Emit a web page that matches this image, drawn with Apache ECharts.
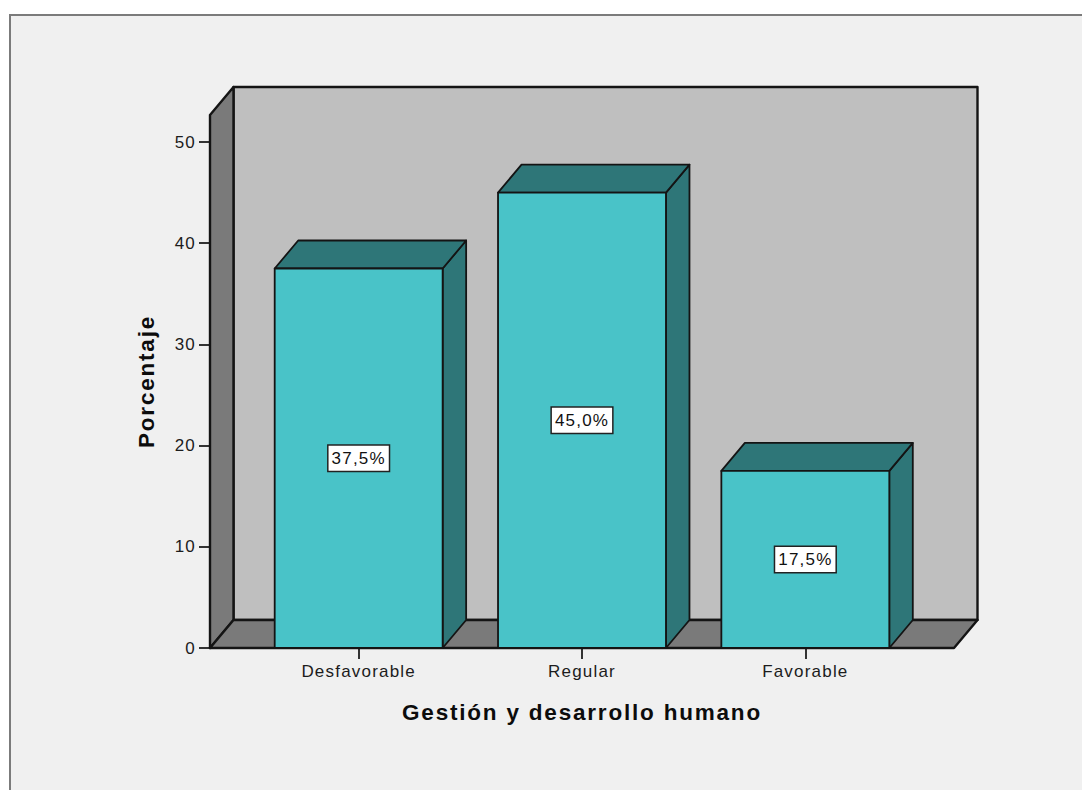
<!DOCTYPE html>
<html>
<head>
<meta charset="utf-8">
<style>
html,body{margin:0;padding:0;background:#fff}
#chart{width:1082px;height:790px}
/* Wider tracking for the chart's text */
#chart svg text{letter-spacing:1.2px}
#chart svg text[style*="bold"]{letter-spacing:1.8px}
</style>
<script src="https://cdn.jsdelivr.net/npm/echarts@6/dist/echarts.min.js"></script>
</head>
<body>
<div id="chart"></div>
<script>
// Porcentaje de respuestas por nivel
const categories = ['Desfavorable', 'Regular', 'Favorable'];
const percentages = [37.5, 45.0, 17.5];
const yTicks = [0, 10, 20, 30, 40, 50];
const yMax = 52.67;
const xTitle = 'Gestión y desarrollo humano';
const yTitle = 'Porcentaje';

// Look of the extruded box
const DEPTH_X = 23.5, DEPTH_Y = 28;
const WALL_OVERHANG = 37;
const COLORS = { panel: '#f0f0f0', frame: '#7b7b7b', wall: '#bfbfbf', side: '#7a7a7a', face: '#49c3c8', shade: '#2e7678', line: '#141414' };
const FONT = '"Liberation Sans", Arial, sans-serif';

const chart = echarts.init(document.getElementById('chart'), null, { renderer: 'svg' });

function quad(pts, fill, lw) {
  return { type: 'polygon', shape: { points: pts }, style: { fill: fill, stroke: COLORS.line, lineWidth: lw, lineJoin: 'round' } };
}

// Back wall, left wall and floor of the box
function renderFrame(params, api) {
  const cs = params.coordSys;
  const x0 = cs.x - WALL_OVERHANG, x1 = cs.x + cs.width + WALL_OVERHANG;
  const yTop = cs.y, yBase = cs.y + cs.height;
  const d = (p) => [p[0] + DEPTH_X, p[1] - DEPTH_Y];
  return {
    type: 'group',
    children: [
      quad([d([x0, yTop]), d([x1, yTop]), d([x1, yBase]), d([x0, yBase])], COLORS.wall, 2.4),
      quad([[x0, yTop], d([x0, yTop]), d([x0, yBase]), [x0, yBase]], COLORS.side, 2.4),
      quad([[x0, yBase], d([x0, yBase]), d([x1, yBase]), [x1, yBase]], COLORS.side, 2.4)
    ]
  };
}

// One extruded bar: side, top, front face and its value tag
function renderBar(params, api) {
  const idx = api.value(0), val = api.value(1);
  const top = api.coord([idx, val]), base = api.coord([idx, 0]);
  const half = api.size([1, 0])[0] * 0.752 / 2;
  const l = top[0] - half, r = top[0] + half;
  const mid = api.coord([idx, val / 2]);
  return {
    type: 'group',
    children: [
      quad([[r, top[1]], [r + DEPTH_X, top[1] - DEPTH_Y], [r + DEPTH_X, base[1] - DEPTH_Y], [r, base[1]]], COLORS.shade, 1.8),
      quad([[l, top[1]], [l + DEPTH_X, top[1] - DEPTH_Y], [r + DEPTH_X, top[1] - DEPTH_Y], [r, top[1]]], COLORS.shade, 1.8),
      quad([[l, top[1]], [r, top[1]], [r, base[1]], [l, base[1]]], COLORS.face, 1.8),
      {
        type: 'text',
        x: mid[0], y: mid[1],
        style: {
          text: val.toFixed(1).replace('.', ',') + '%',
          font: '17px ' + FONT, fill: '#111',
          align: 'center', verticalAlign: 'middle',
          backgroundColor: '#fff', borderColor: '#222', borderWidth: 1.5,
          padding: [4, 6, 4, 6]
        }
      }
    ]
  };
}

chart.setOption({
  animation: false,
  backgroundColor: '#fff',
  graphic: [{
    type: 'rect', z: -10, silent: true,
    shape: { x: 10, y: 15, width: 1200, height: 900 },
    style: { fill: COLORS.panel, stroke: COLORS.frame, lineWidth: 2 }
  }],
  grid: { left: 247, top: 115, width: 670, height: 533 },
  xAxis: {
    type: 'category',
    data: categories,
    axisLine: { show: false },
    axisTick: { show: true, alignWithLabel: true, length: 11, lineStyle: { color: '#333', width: 2 } },
    axisLabel: { fontFamily: FONT, fontSize: 17, color: '#1c1c1c', margin: 15 },
    name: xTitle, nameLocation: 'middle', nameGap: 53,
    nameTextStyle: { fontFamily: FONT, fontSize: 22.5, fontWeight: 'bold', color: '#0c0c0c' }
  },
  yAxis: {
    type: 'value', min: 0, max: yMax, interval: 10, offset: WALL_OVERHANG,
    splitLine: { show: false },
    axisLine: { show: false },
    axisTick: { show: true, length: 11, customValues: yTicks, lineStyle: { color: '#333', width: 2 } },
    axisLabel: { fontFamily: FONT, fontSize: 17, color: '#1c1c1c', margin: 14, customValues: yTicks },
    name: yTitle, nameLocation: 'middle', nameGap: 52, nameRotate: 90,
    nameTextStyle: { fontFamily: FONT, fontSize: 22.5, fontWeight: 'bold', color: '#0c0c0c' }
  },
  series: [
    { type: 'custom', coordinateSystem: 'cartesian2d', clip: false, silent: true, z: 1, renderItem: renderFrame, data: [[0, 0]] },
    { type: 'custom', coordinateSystem: 'cartesian2d', clip: false, silent: true, z: 2, renderItem: renderBar,
      encode: { x: 0, y: 1 }, data: percentages.map((v, i) => [i, v]) }
  ]
});
</script>
</body>
</html>
